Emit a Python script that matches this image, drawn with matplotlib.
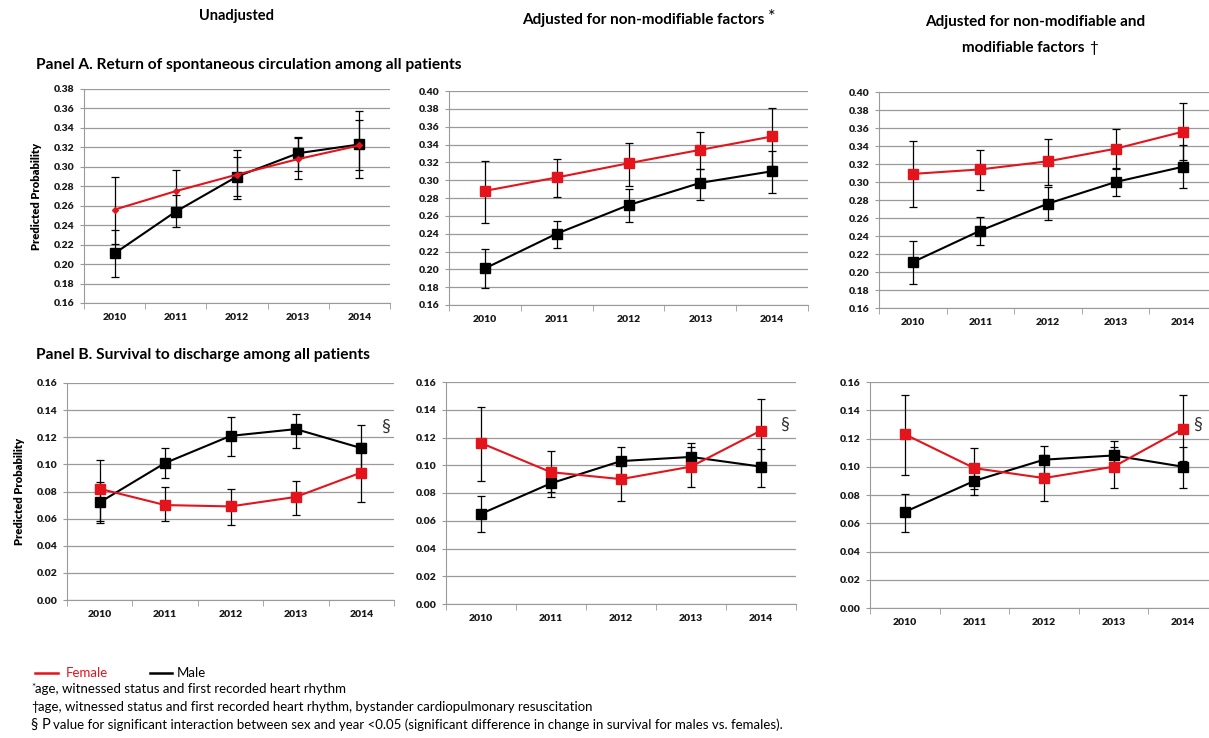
import matplotlib
matplotlib.use("Agg")
import matplotlib.pyplot as plt
import numpy as np

plt.rcParams['font.family'] = ['Lato', 'DejaVu Sans']

RED = '#e3141b'
GRID = '#9a9a9a'

years = ['2010', '2011', '2012', '2013', '2014']

# Panel A - return of spontaneous circulation
a1_f = [0.256, 0.275, 0.292, 0.308, 0.322]
a1_f_lo = [0.221, 0.252, 0.267, 0.287, 0.297]
a1_f_hi = [0.290, 0.297, 0.317, 0.330, 0.348]
a1_m = [0.211, 0.254, 0.290, 0.314, 0.323]
a1_m_lo = [0.187, 0.238, 0.270, 0.296, 0.289]
a1_m_hi = [0.235, 0.271, 0.310, 0.331, 0.357]

a2_f = [0.288, 0.303, 0.319, 0.334, 0.349]
a2_f_lo = [0.252, 0.281, 0.294, 0.313, 0.316]
a2_f_hi = [0.322, 0.324, 0.342, 0.354, 0.381]
a2_m = [0.201, 0.240, 0.272, 0.297, 0.310]
a2_m_lo = [0.179, 0.224, 0.253, 0.278, 0.286]
a2_m_hi = [0.223, 0.254, 0.290, 0.312, 0.333]

a3_f = [0.309, 0.314, 0.323, 0.337, 0.356]
a3_f_lo = [0.272, 0.291, 0.297, 0.316, 0.324]
a3_f_hi = [0.346, 0.336, 0.348, 0.359, 0.388]
a3_m = [0.211, 0.246, 0.276, 0.300, 0.317]
a3_m_lo = [0.187, 0.230, 0.258, 0.284, 0.293]
a3_m_hi = [0.234, 0.261, 0.294, 0.314, 0.341]

# Panel B - survival to discharge
b1_f = [0.082, 0.070, 0.069, 0.076, 0.094]
b1_f_lo = [0.057, 0.058, 0.055, 0.063, 0.072]
b1_f_hi = [0.103, 0.083, 0.082, 0.088, 0.116]
b1_m = [0.072, 0.101, 0.121, 0.126, 0.112]
b1_m_lo = [0.058, 0.090, 0.106, 0.112, 0.096]
b1_m_hi = [0.087, 0.112, 0.135, 0.137, 0.129]

b2_f = [0.116, 0.095, 0.090, 0.099, 0.125]
b2_f_lo = [0.089, 0.081, 0.074, 0.084, 0.102]
b2_f_hi = [0.142, 0.110, 0.106, 0.113, 0.148]
b2_m = [0.065, 0.087, 0.103, 0.106, 0.099]
b2_m_lo = [0.052, 0.077, 0.093, 0.097, 0.084]
b2_m_hi = [0.078, 0.097, 0.113, 0.116, 0.112]

b3_f = [0.123, 0.099, 0.092, 0.100, 0.127]
b3_f_lo = [0.094, 0.084, 0.076, 0.085, 0.104]
b3_f_hi = [0.151, 0.113, 0.108, 0.114, 0.151]
b3_m = [0.068, 0.090, 0.105, 0.108, 0.100]
b3_m_lo = [0.054, 0.080, 0.095, 0.099, 0.085]
b3_m_hi = [0.081, 0.100, 0.115, 0.118, 0.114]

W, H = 1209, 738
fig = plt.figure(figsize=(W / 100, H / 100), dpi=100)
renderer = fig.canvas.get_renderer()


def box(l, r, t, b):
    return [l / W, 1 - b / H, (r - l) / W, (b - t) / H]


def panel(rect, f, flo, fhi, m, mlo, mhi, ylim, ystep, ylabel=None, small_f=False):
    ax = fig.add_axes(rect)
    x = np.arange(len(years))
    for v, lo, hi in [(m, mlo, mhi), (f, flo, fhi)]:
        v = np.array(v)
        err = [v - np.array(lo), np.array(hi) - v]
        ax.errorbar(x, v, yerr=err, fmt='none', ecolor='black', elinewidth=0.9,
                    capsize=3, capthick=0.9, zorder=2)
    ax.plot(x, m, color='black', lw=1.5, marker='s', ms=6.5, zorder=3)
    if small_f:
        ax.plot(x, f, color=RED, lw=1.5, marker='D', ms=3, zorder=4)
    else:
        ax.plot(x, f, color=RED, lw=1.5, marker='s', ms=6.5, zorder=4)
    ax.set_xlim(-0.5, len(years) - 0.5)
    ax.set_ylim(*ylim)
    ticks = np.arange(ylim[0], ylim[1] + ystep / 2, ystep)
    ax.set_yticks(ticks)
    ax.set_yticklabels(['%.2f' % t for t in ticks])
    ax.set_xticks(x)
    ax.set_xticklabels(years)
    ax.set_xticks(np.arange(-0.5, len(years)), minor=True)
    ax.tick_params(axis='x', which='major', length=0, pad=7)
    ax.tick_params(axis='x', which='minor', length=4, color=GRID, direction='out')
    ax.tick_params(axis='y', length=3, color=GRID, pad=4)
    for lab in ax.get_xticklabels() + ax.get_yticklabels():
        lab.set_fontsize(7.5)
        lab.set_fontweight('heavy')
        lab.set_color('#1a1a1a')
    ax.grid(axis='y', color=GRID, lw=0.9)
    ax.set_axisbelow(True)
    for s in ['top', 'right']:
        ax.spines[s].set_visible(False)
    ax.spines['left'].set_color(GRID)
    ax.spines['bottom'].set_color(GRID)
    if ylabel:
        ax.set_ylabel(ylabel, fontsize=8, fontweight='heavy', labelpad=8)
    return ax


panel(box(84, 390, 89, 303), a1_f, a1_f_lo, a1_f_hi, a1_m, a1_m_lo, a1_m_hi,
      (0.16, 0.38), 0.02, 'Predicted Probability', small_f=True)
panel(box(449, 808, 91, 305), a2_f, a2_f_lo, a2_f_hi, a2_m, a2_m_lo, a2_m_hi,
      (0.16, 0.40), 0.02)
panel(box(879, 1217, 92, 308), a3_f, a3_f_lo, a3_f_hi, a3_m, a3_m_lo, a3_m_hi,
      (0.16, 0.40), 0.02)
panel(box(67, 394, 383, 600), b1_f, b1_f_lo, b1_f_hi, b1_m, b1_m_lo, b1_m_hi,
      (0.0, 0.16), 0.02, 'Predicted Probability')
panel(box(446, 796, 382, 604), b2_f, b2_f_lo, b2_f_hi, b2_m, b2_m_lo, b2_m_hi,
      (0.0, 0.16), 0.02)
panel(box(870, 1218, 382, 608), b3_f, b3_f_lo, b3_f_hi, b3_m, b3_m_lo, b3_m_hi,
      (0.0, 0.16), 0.02)


def txt(x, y, s, **kw):
    return fig.text(x / W, 1 - y / H, s, **kw)


def after(t, dx, y, s, **kw):
    # put a mark just right of an existing text
    bb = t.get_window_extent(renderer)
    return fig.text((bb.x1 + dx) / W, 1 - y / H, s, ha='left', va='center', **kw)


# column headers
txt(237, 16, 'Unadjusted', ha='center', va='center', fontsize=10.5, fontweight='bold')
t = txt(643, 20, 'Adjusted for non-modifiable factors', ha='center', va='center',
        fontsize=11, fontweight='bold')
after(t, 4, 17, '*', fontsize=13)
txt(1035, 22, 'Adjusted for non-modifiable and', ha='center', va='center',
    fontsize=11, fontweight='bold')
t = txt(1023, 48, 'modifiable factors', ha='center', va='center', fontsize=11,
        fontweight='bold')
after(t, 5, 48, '\u2020', fontsize=11)
txt(36, 65, 'Panel A. Return of spontaneous circulation among all patients',
    ha='left', va='center', fontsize=11.2, fontweight='bold')
txt(36, 355, 'Panel B. Survival to discharge among all patients',
    ha='left', va='center', fontsize=11.2, fontweight='bold')

# significance marks
for x, y in [(386, 427), (785, 425), (1198, 425)]:
    txt(x, y, '\u00a7', ha='center', va='center', fontsize=13, color='#333333')

# legend and footnotes
fig.add_artist(plt.Line2D([35 / W, 58 / W], [1 - 673 / H] * 2, color=RED, lw=1.8))
txt(66, 673, 'Female', ha='left', va='center', fontsize=9.5, color=RED)
fig.add_artist(plt.Line2D([150 / W, 172 / W], [1 - 673 / H] * 2, color='black', lw=1.8))
txt(177, 673, 'Male', ha='left', va='center', fontsize=9.5)
t = txt(31, 688, '*', ha='left', va='center', fontsize=7)
after(t, 0, 689, 'age, witnessed status and first recorded heart rhythm', fontsize=9.5)
t = txt(31, 707, '\u2020', ha='left', va='center', fontsize=9)
after(t, 0, 707, 'age, witnessed status and first recorded heart rhythm, bystander '
      'cardiopulmonary resuscitation', fontsize=9.5)
t = txt(31, 725, '\u00a7 P', ha='left', va='center', fontsize=10.5)
after(t, 2, 725, 'value for significant interaction between sex and year <0.05 '
      '(significant difference in change in survival for males vs. females).',
      fontsize=9.5)

fig.savefig('out.png', dpi=100)
